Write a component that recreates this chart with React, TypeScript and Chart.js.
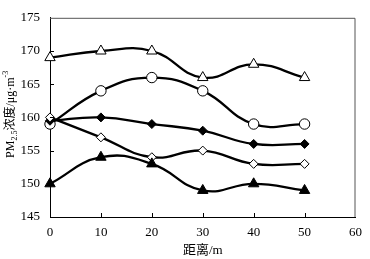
import React, { useEffect, useRef } from "react";
import { Chart, registerables } from "chart.js";

Chart.register(...registerables);

const distances = [0, 10, 20, 30, 40, 50];
const openTriangle = [169, 170, 170, 166, 168, 166];
const openCircle = [159, 164, 166, 164, 159, 159];
const filledDiamond = [159.5, 160, 159, 158, 156, 156];
const openDiamond = [160, 157, 154, 155, 153, 153];
const filledTriangle = [150, 154, 153, 149, 150, 149];

const xTickValues = [0, 10, 20, 30, 40, 50, 60];
const yTickValues = [145, 150, 155, 160, 165, 170, 175];

const xTitle = "距离/m";
const yTitleParts = [
  { t: "PM", k: "n" },
  { t: "2.5", k: "sub" },
  { t: "浓度/μg·m", k: "n" },
  { t: "-3", k: "sup" },
];

const FONT = '"Liberation Serif", "Noto Sans CJK SC", serif';

const pts = (ys: number[]) => distances.map((x, i) => ({ x, y: ys[i] }));

const decorPlugin = {
  id: "decor",
  afterDraw(chart: any) {
    const { ctx, chartArea } = chart;
    const { left, right, top, bottom } = chartArea;
    const xs = chart.scales.x;
    const ys = chart.scales.y;
    ctx.save();
    // top/right frame
    ctx.strokeStyle = "#555";
    ctx.lineWidth = 1;
    ctx.beginPath();
    ctx.moveTo(left, top + 0.5);
    ctx.lineTo(right - 0.5, top + 0.5);
    ctx.lineTo(right - 0.5, bottom);
    ctx.stroke();
    // inside ticks
    ctx.strokeStyle = "#000";
    ctx.beginPath();
    xTickValues.forEach((v) => {
      if (v === 0 || v === 60) return;
      const px = Math.round(xs.getPixelForValue(v)) + 0.5;
      ctx.moveTo(px, bottom);
      ctx.lineTo(px, bottom - 4);
    });
    yTickValues.forEach((v) => {
      if (v === 145 || v === 175) return;
      const py = Math.round(ys.getPixelForValue(v)) + 0.5;
      ctx.moveTo(left, py);
      ctx.lineTo(left + 4, py);
    });
    ctx.stroke();
    // x title
    ctx.fillStyle = "#000";
    ctx.font = `13px ${FONT}`;
    ctx.textAlign = "center";
    ctx.textBaseline = "middle";
    ctx.fillText(xTitle, (left + right) / 2, 251);
    // y title rotated
    ctx.translate(11, (top + bottom) / 2 - 3);
    ctx.rotate(-Math.PI / 2);
    ctx.textAlign = "left";
    const fontFor = (k: string) => (k === "n" ? `12px ${FONT}` : `8px ${FONT}`);
    let total = 0;
    yTitleParts.forEach((p) => {
      ctx.font = fontFor(p.k);
      total += ctx.measureText(p.t).width;
    });
    let cx = -total / 2;
    yTitleParts.forEach((p) => {
      ctx.font = fontFor(p.k);
      const dy = p.k === "sub" ? 4 : p.k === "sup" ? -5 : 0;
      ctx.fillText(p.t, cx, dy);
      cx += ctx.measureText(p.t).width;
    });
    ctx.restore();
  },
};

export default function App() {
  const ref = useRef<HTMLCanvasElement>(null);
  useEffect(() => {
    document.body.style.margin = "0";
    const base = {
      borderColor: "#000",
      borderWidth: 2.3,
      tension: 0.45,
      pointBorderColor: "#000",
      pointBorderWidth: 1,
      clip: false,
    };
    const chart = new Chart(ref.current as HTMLCanvasElement, {
      type: "line",
      data: {
        datasets: [
          { ...base, data: pts(filledTriangle), pointStyle: "triangle", pointRadius: 6, pointBackgroundColor: "#000" },
          { ...base, data: pts(openDiamond), pointStyle: "rectRot", pointRadius: 4.5, pointBackgroundColor: "#fff" },
          { ...base, data: pts(filledDiamond), pointStyle: "rectRot", pointRadius: 4.5, pointBackgroundColor: "#000" },
          { ...base, data: pts(openCircle), pointStyle: "circle", pointRadius: 5.2, pointBackgroundColor: "#fff" },
          { ...base, data: pts(openTriangle), pointStyle: "triangle", pointRadius: 6, pointBackgroundColor: "#fff" },
        ] as any,
      },
      options: {
        animation: false,
        responsive: true,
        maintainAspectRatio: false,
        layout: { padding: { left: 0, right: 11, top: 7, bottom: 0 } },
        plugins: { legend: { display: false }, tooltip: { enabled: false } },
        scales: {
          x: {
            type: "linear",
            min: 0,
            max: 60,
            afterFit: (s: any) => {
              s.height = 42;
            },
            afterBuildTicks: (s: any) => {
              s.ticks = xTickValues.map((v) => ({ value: v }));
            },
            grid: { display: false, drawTicks: false },
            border: { display: true, color: "#000", width: 1 },
            ticks: { color: "#000", font: { family: FONT, size: 13 }, padding: 8, maxRotation: 0 },
          },
          y: {
            type: "linear",
            min: 145,
            max: 175,
            afterFit: (s: any) => {
              s.width = 50;
            },
            afterBuildTicks: (s: any) => {
              s.ticks = yTickValues.map((v) => ({ value: v }));
            },
            grid: { display: false, drawTicks: false },
            border: { display: true, color: "#000", width: 1 },
            ticks: { color: "#000", font: { family: FONT, size: 13 }, padding: 10 },
          },
        },
      },
      plugins: [decorPlugin],
    });
    return () => chart.destroy();
  }, []);
  return (
    <div style={{ width: 370, height: 259, position: "relative" }}>
      <canvas ref={ref} />
    </div>
  );
}
